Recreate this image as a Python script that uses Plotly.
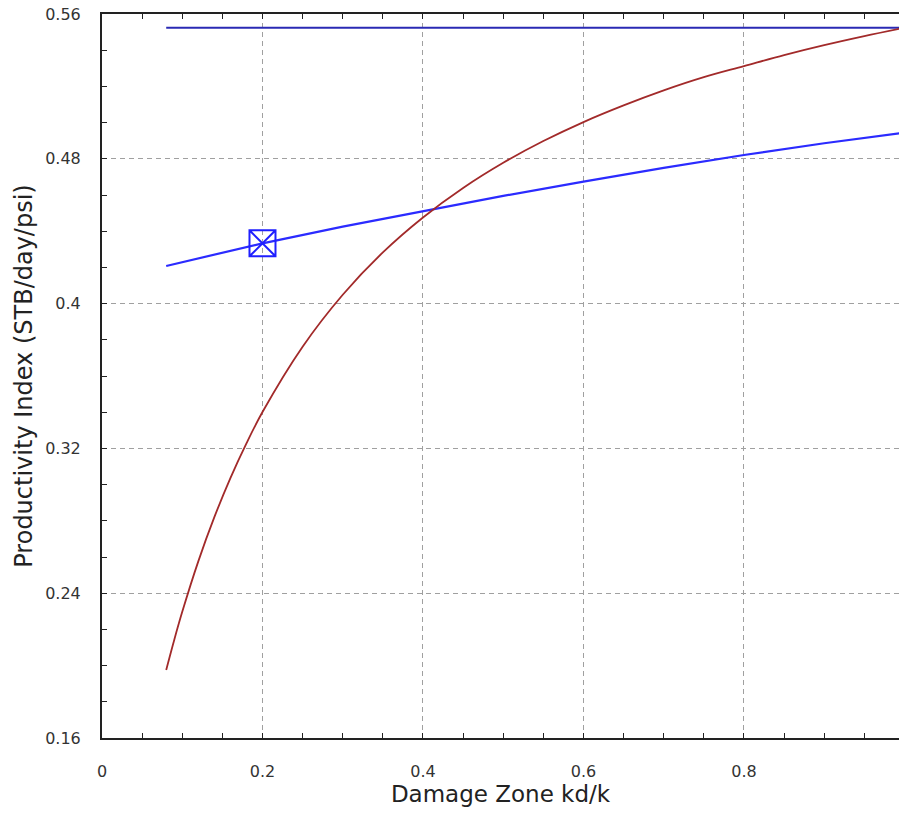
import plotly.graph_objects as go

# Damage-zone permeability ratio (kd/k) for the damaged-well curve
kd_ratio = [0.08, 0.09, 0.10, 0.12, 0.14, 0.16, 0.18, 0.20, 0.25, 0.30, 0.35,
            0.40, 0.45, 0.50, 0.55, 0.60, 0.65, 0.70, 0.75, 0.80, 0.85, 0.90,
            0.95, 1.00]
pi_damaged = [0.1976, 0.2142, 0.2297, 0.2576, 0.2820, 0.3036, 0.3228, 0.3401,
              0.3762, 0.4049, 0.4283, 0.4476, 0.4639, 0.4778, 0.4898, 0.5003,
              0.5095, 0.5178, 0.5251, 0.5312, 0.5373, 0.5428, 0.5478, 0.5524]

# Second productivity-index curve
kd_ratio_b = [0.08, 0.10, 0.20, 0.30, 0.40, 0.50, 0.60, 0.70, 0.80, 0.90, 1.00]
pi_curve_b = [0.4208, 0.4229, 0.4333, 0.4425, 0.4512, 0.4595, 0.4674, 0.4750,
              0.4821, 0.4886, 0.4945]

# Undamaged (ideal) productivity index
ideal_x = [0.08, 1.00]
ideal_pi = [0.5524, 0.5524]

# Current operating point
point_x = [0.2]
point_pi = [0.4333]

x_ticks = [0, 0.2, 0.4, 0.6, 0.8]
x_tick_text = ["0", "0.2", "0.4", "0.6", "0.8"]
y_ticks = [0.16, 0.24, 0.32, 0.40, 0.48, 0.56]
y_tick_text = ["0.16", "0.24", "0.32", "0.4", "0.48", "0.56"]

fig = go.Figure()

fig.add_trace(go.Scatter(x=ideal_x, y=ideal_pi, mode="lines",
                         line=dict(color="#2a2ab4", width=2), showlegend=False))
fig.add_trace(go.Scatter(x=kd_ratio_b, y=pi_curve_b, mode="lines",
                         line=dict(color="#2b2bff", width=2.2), showlegend=False))
fig.add_trace(go.Scatter(x=kd_ratio, y=pi_damaged, mode="lines",
                         line=dict(color="#a22a2a", width=1.8, shape="spline"),
                         showlegend=False))
fig.add_trace(go.Scatter(x=point_x, y=point_pi, mode="markers",
                         marker=dict(symbol="square-x-open", size=26,
                                     color="#1f1fff", line=dict(width=2)),
                         showlegend=False))

tick_font = dict(family="DejaVu Sans", size=16, color="#333333")
x_title_font = dict(family="DejaVu Sans", size=23, color="#222222")
y_title_font = dict(family="DejaVu Sans", size=24, color="#222222")

fig.update_xaxes(
    range=[0, 0.9932],
    tickmode="array", tickvals=x_ticks, ticktext=x_tick_text,
    ticks="inside", ticklen=5, tickwidth=1, tickcolor="#222222",
    minor=dict(dtick=0.05, ticks="inside", ticklen=5, tickcolor="#222222",
               showgrid=False),
    showline=True, linecolor="#222222", linewidth=2, mirror="ticks",
    showgrid=True, gridcolor="#a0a0a0", gridwidth=1, griddash="5px,4px",
    zeroline=False, tickfont=tick_font, ticklabelstandoff=18,
    title=dict(text="Damage Zone kd/k", font=x_title_font, standoff=2),
)
fig.update_yaxes(
    range=[0.16, 0.56],
    tickmode="array", tickvals=y_ticks, ticktext=y_tick_text,
    ticks="inside", ticklen=5, tickwidth=1, tickcolor="#222222",
    minor=dict(dtick=0.02, ticks="inside", ticklen=5, tickcolor="#222222",
               showgrid=False),
    showline=True, linecolor="#222222", linewidth=2, mirror=False,
    showgrid=True, gridcolor="#a0a0a0", gridwidth=1, griddash="5px,4px",
    zeroline=False, tickfont=tick_font, ticklabelstandoff=16,
    title=dict(text="Productivity Index (STB/day/psi)", font=y_title_font,
               standoff=6),
)

fig.update_layout(
    width=899, height=813,
    margin=dict(l=102, r=0, t=14, b=75),
    paper_bgcolor="white", plot_bgcolor="white",
)

fig.write_html("out.html")
